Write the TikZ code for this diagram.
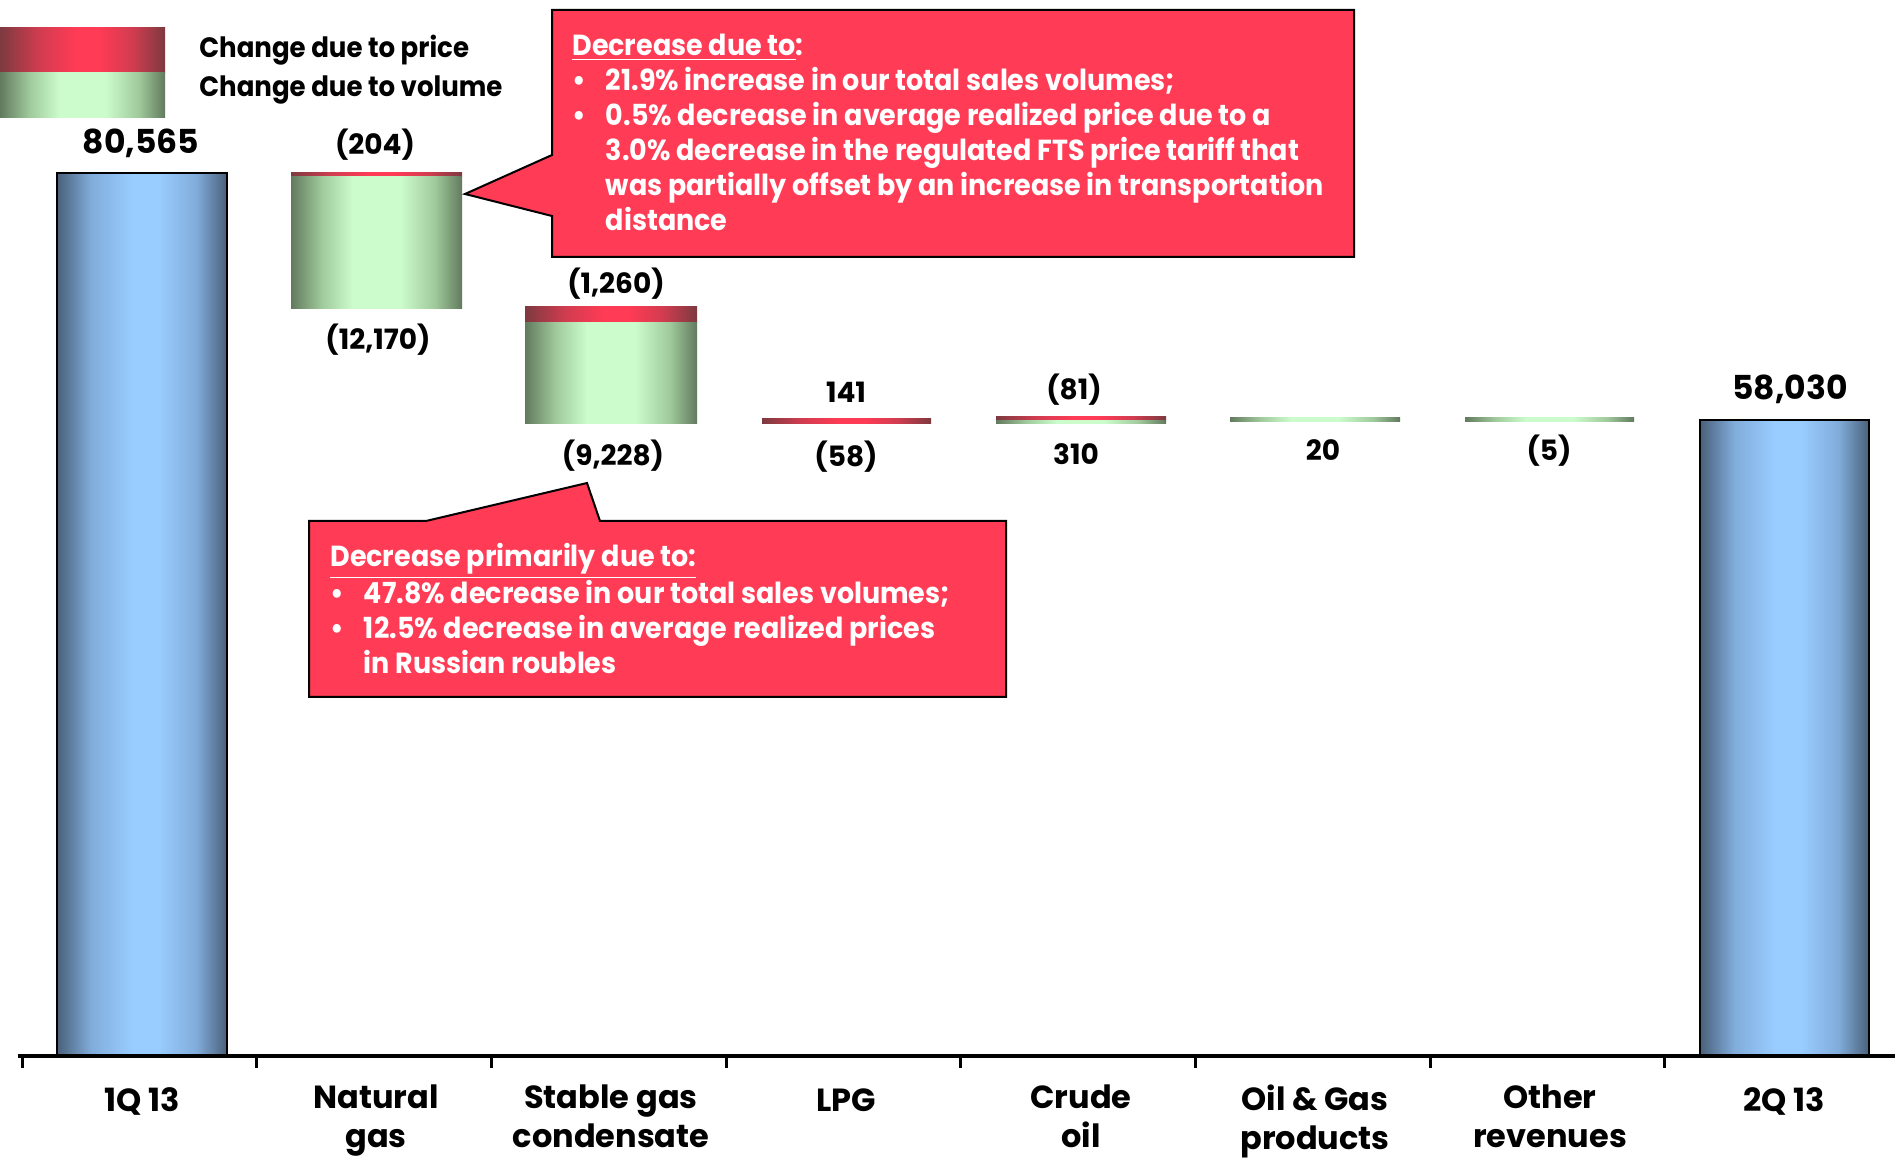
\documentclass[tikz,border=0pt]{standalone}
\usepackage{fontspec}
\setmainfont{Poppins}
\newfontfamily\narrowfont{Poppins}[FakeStretch=0.93]
\usetikzlibrary{positioning}

\definecolor{bluedark}{RGB}{74,96,122}
\definecolor{bluemid}{RGB}{128,172,218}
\definecolor{bluelight}{RGB}{153,204,255}
\definecolor{greendark}{RGB}{98,122,94}
\definecolor{greenmid}{RGB}{160,202,156}
\definecolor{greenlight}{RGB}{204,252,204}
\definecolor{reddark}{RGB}{125,58,64}
\definecolor{redmid}{RGB}{210,60,80}
\definecolor{redlight}{RGB}{255,59,85}
\definecolor{callred}{RGB}{255,59,85}

\pgfdeclarehorizontalshading{bluebar}{100bp}{color(0bp)=(bluedark); color(25bp)=(bluedark); color(35bp)=(bluemid); color(47bp)=(bluelight); color(55bp)=(bluelight); color(66bp)=(bluemid); color(75bp)=(bluedark); color(100bp)=(bluedark)}
\pgfdeclarehorizontalshading{greenbar}{100bp}{color(0bp)=(greendark); color(25bp)=(greendark); color(34bp)=(greenmid); color(43bp)=(greenlight); color(57bp)=(greenlight); color(67bp)=(greenmid); color(75bp)=(greendark); color(100bp)=(greendark)}
\pgfdeclarehorizontalshading{redbar}{100bp}{color(0bp)=(reddark); color(25bp)=(reddark); color(37bp)=(redmid); color(48bp)=(redlight); color(55bp)=(redlight); color(65bp)=(redmid); color(75bp)=(reddark); color(100bp)=(reddark)}

\begin{document}
\begin{tikzpicture}[x=0.5pt,y=-0.5pt]
	\tikzstyle{total}=[shading=bluebar,draw=black,line width=1pt]
	\tikzstyle{volume}=[shading=greenbar]
	\tikzstyle{price}=[shading=redbar]
	\tikzstyle{value}=[font=\bfseries\fontsize{14}{17}\selectfont,inner sep=0pt]
	\tikzstyle{legendtext}=[font=\narrowfont\bfseries\fontsize{14}{17}\selectfont,inner sep=0pt,anchor=west]
	\tikzstyle{bigvalue}=[font=\bfseries\fontsize{16.5}{20}\selectfont,inner sep=0pt]
	\tikzstyle{category}=[font=\bfseries\fontsize{16}{19.5}\selectfont,align=center,inner sep=0pt,anchor=north,execute at begin node=\strut]
	\tikzstyle{note}=[font=\narrowfont\bfseries\fontsize{14.5}{17.5}\selectfont,text=white,inner sep=0pt,anchor=base west]
	\tikzstyle{callout}=[fill=callred,draw=black,line width=1pt]
	\useasboundingbox (0,0) rectangle (1895,1159);

	% legend
	\shade[price] (0,28) rectangle (165,73);
	\shade[volume] (0,73) rectangle (165,118);
	\node[legendtext] (lprice) at (199,50) {Change due to price};
	\node[legendtext] (lvolume) at (199,90) {Change due to volume};

	% bars
	\shade[total] (57,173) rectangle (227,1056);
	\shade[price] (291,173) rectangle (462,177);
	\shade[volume] (291,177) rectangle (462,309);
	\shade[price] (525,307) rectangle (697,323);
	\shade[volume] (525,323) rectangle (697,424);
	\shade[price] (762,419) rectangle (931,424);
	\shade[price] (996,417) rectangle (1166,421);
	\shade[volume] (996,421) rectangle (1166,424);
	\shade[volume] (1230,418) rectangle (1400,422);
	\shade[volume] (1465,418) rectangle (1634,422);
	\shade[total] (1700,420) rectangle (1869,1056);

	% axis
	\draw[line width=2pt] (18,1056) -- (1895,1056);
	\foreach \i in {0,...,7}
		\draw[line width=1.5pt] (22+234.7*\i,1056) -- ++(0,12);

	% values
	\node[bigvalue] (v1q) at (141,143) {80,565};
	\node[value] (vgasp) at (375,145) {(204)};
	\node[value] (vgasv) at (378,340) {(12,170)};
	\node[value] (vsgcp) at (616,284) {(1,260)};
	\node[value] (vsgcv) at (613,456) {(9,228)};
	\node[value] (vlpgp) at (846,392) {141};
	\node[value] (vlpgv) at (846,457) {(58)};
	\node[value] (voilp) at (1074,390) {(81)};
	\node[value] (voilv) at (1076,454) {310};
	\node[value] (vprod) at (1323,450) {20};
	\node[value] (vother) at (1549,451) {(5)};
	\node[bigvalue] (v2q) at (1790,389) {58,030};

	% categories
	\node[category] (c1q) at (142,1084) {1Q 13};
	\node[category] (cgas) at (376,1084) {Natural\\gas};
	\node[category] (csgc) at (611,1084) {Stable gas\\condensate};
	\node[category] (clpg) at (846,1084) {LPG};
	\node[category] (coil) at (1081,1084) {Crude\\oil};
	\node[category] (cprod) at (1315,1084) {Oil \& Gas\\products};
	\node[category] (cother) at (1550,1084) {Other\\revenues};
	\node[category] (c2q) at (1784,1084) {2Q 13};

	% callouts
	\coordinate (tipgas) at (465,194);
	\draw[callout] (552,10) -- (1354,10) -- (1354,257) -- (552,257) -- (552,216) -- (tipgas) -- (552,155) -- cycle;
	\node[note] (notegas) at (572,56) {\begin{tabular}[t]{@{}l@{\hspace{10pt}}l@{}}
		\multicolumn{2}{@{}l}{\underline{Decrease due to}:}\\
		\textbullet & 21.9\% increase in our total sales volumes;\\
		\textbullet & 0.5\% decrease in average realized price due to a\\
		& 3.0\% decrease in the regulated FTS price tariff that\\
		& was partially offset by an increase in transportation\\
		& distance
	\end{tabular}};

	\coordinate (tipsgc) at (587,483);
	\draw[callout] (309,521) -- (426,521) -- (tipsgc) -- (600,521) -- (1006,521) -- (1006,697) -- (309,697) -- cycle;
	\node[note] (notesgc) at (330,567) {\begin{tabular}[t]{@{}l@{\hspace{10pt}}l@{}}
		\multicolumn{2}{@{}l}{\underline{Decrease primarily due to:}}\\
		\textbullet & 47.8\% decrease in our total sales volumes;\\
		\textbullet & 12.5\% decrease in average realized prices\\
		& in Russian roubles
	\end{tabular}};
\end{tikzpicture}
\end{document}
